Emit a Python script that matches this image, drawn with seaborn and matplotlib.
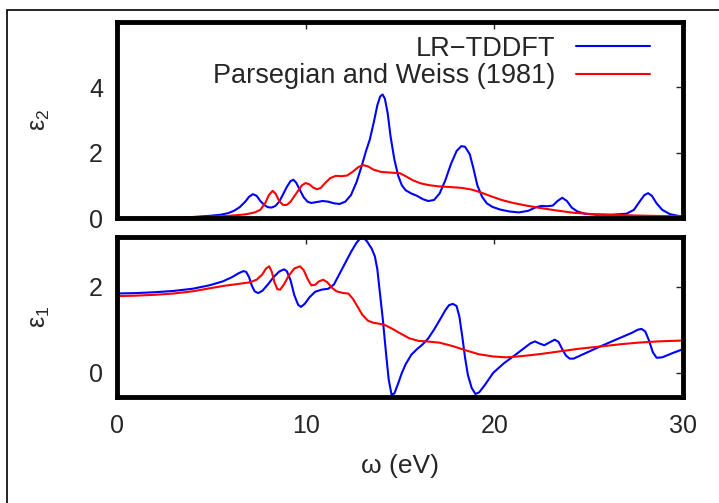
import numpy as np
import pandas as pd
import matplotlib
matplotlib.use("Agg")
import matplotlib.pyplot as plt
import seaborn as sns
from matplotlib.patches import Rectangle

# valores: omega (eV) y epsilon
w_eps2_tddft = [0, 2, 3, 4, 4.5, 5, 5.5, 5.9, 6.2, 6.5, 6.8, 7.0, 7.2, 7.4, 7.6, 7.8, 8.0, 8.2, 8.4,
                8.6, 8.8, 9.0, 9.2, 9.35, 9.5, 9.7, 9.9, 10.1, 10.3, 10.6, 10.9, 11.2, 11.5, 11.8,
                12.1, 12.4, 12.7, 13.0, 13.2, 13.4, 13.6, 13.8, 13.95, 14.08, 14.2, 14.35, 14.5,
                14.7, 14.9, 15.1, 15.3, 15.6, 15.9, 16.2, 16.5, 16.8, 17.1, 17.4, 17.7, 18.0, 18.25,
                18.45, 18.7, 18.9, 19.1, 19.35, 19.6, 19.9, 20.3, 20.8, 21.3, 21.8, 22.2, 22.5, 22.8,
                23.1, 23.35, 23.6, 23.85, 24.1, 24.4, 24.8, 25.4, 26.2, 27.0, 27.4, 27.7, 27.95,
                28.15, 28.35, 28.6, 28.9, 29.3, 29.7, 30]
eps2_tddft = [0, 0, 0.01, 0.03, 0.05, 0.07, 0.1, 0.15, 0.22, 0.33, 0.5, 0.65, 0.73, 0.68, 0.52, 0.4,
              0.33, 0.32, 0.37, 0.5, 0.72, 0.95, 1.13, 1.17, 1.08, 0.85, 0.63, 0.5, 0.46, 0.49, 0.52,
              0.5, 0.45, 0.43, 0.5, 0.7, 1.1, 1.65, 2.05, 2.4, 2.9, 3.45, 3.72, 3.78, 3.65, 3.2, 2.5,
              1.8, 1.3, 1.0, 0.85, 0.75, 0.68, 0.58, 0.52, 0.55, 0.75, 1.15, 1.65, 2.05, 2.2, 2.18,
              1.95, 1.5, 1.0, 0.65, 0.45, 0.34, 0.26, 0.2, 0.17, 0.22, 0.33, 0.37, 0.36, 0.38, 0.52,
              0.62, 0.52, 0.32, 0.2, 0.13, 0.1, 0.1, 0.13, 0.25, 0.5, 0.7, 0.76, 0.68, 0.45, 0.25,
              0.12, 0.07, 0.05]

w_eps2_pw = [0, 3, 4, 5, 6, 6.8, 7.3, 7.6, 7.85, 8.05, 8.25, 8.4, 8.6, 8.8, 9.0, 9.2, 9.5, 9.8, 10.0,
             10.2, 10.4, 10.6, 10.8, 11.0, 11.3, 11.6, 11.9, 12.2, 12.5, 12.8, 13.05, 13.3, 13.6,
             14.0, 14.5, 15.0, 15.3, 15.7, 16.1, 16.5, 17.0, 17.6, 18.3, 18.8, 19.2, 19.8, 20.4,
             21.0, 21.7, 22.4, 23.3, 24.2, 25.2, 26.5, 28, 30]
eps2_pw = [0, 0.01, 0.02, 0.04, 0.07, 0.11, 0.17, 0.25, 0.45, 0.7, 0.83, 0.75, 0.52, 0.4, 0.4, 0.5,
           0.75, 1.0, 1.07, 1.03, 0.93, 0.88, 0.92, 1.05, 1.22, 1.29, 1.28, 1.3, 1.42, 1.56, 1.62,
           1.58, 1.48, 1.41, 1.39, 1.37, 1.28, 1.15, 1.06, 1.01, 0.97, 0.95, 0.92, 0.87, 0.8, 0.67,
           0.55, 0.46, 0.38, 0.31, 0.23, 0.16, 0.12, 0.09, 0.07, 0.05]

w_eps1_tddft = [0, 1, 2, 3, 4, 4.9, 5.6, 6.1, 6.45, 6.7, 6.85, 7.0, 7.15, 7.3, 7.48, 7.7, 8.0, 8.3,
                8.6, 8.85, 9.0, 9.2, 9.4, 9.6, 9.75, 9.95, 10.2, 10.5, 10.85, 11.2, 11.5, 11.8, 12.1,
                12.4, 12.7, 12.9, 13.05, 13.25, 13.5, 13.67, 13.8, 13.95, 14.1, 14.25, 14.4, 14.55,
                14.7, 14.9, 15.1, 15.3, 15.6, 15.9, 16.2, 16.5, 16.8, 17.1, 17.4, 17.6, 17.8, 18.0,
                18.15, 18.3, 18.45, 18.6, 18.8, 19.0, 19.2, 19.5, 19.94, 20.5, 21.0, 21.6, 21.9,
                22.15, 22.4, 22.65, 22.9, 23.2, 23.4, 23.6, 23.8, 24.0, 24.2, 24.8, 25.6, 26.5, 27.3,
                27.6, 27.8, 28.0, 28.2, 28.4, 28.6, 28.9, 29.4, 30]
eps1_tddft = [1.84, 1.85, 1.87, 1.9, 1.95, 2.03, 2.12, 2.22, 2.31, 2.36, 2.34, 2.22, 2.02, 1.89, 1.85,
              1.9, 2.05, 2.22, 2.35, 2.4, 2.36, 2.15, 1.8, 1.58, 1.53, 1.6, 1.75, 1.88, 1.93, 1.95,
              2.05, 2.3, 2.55, 2.8, 3.02, 3.12, 3.14, 3.05, 2.88, 2.7, 2.4, 1.8, 1.2, 0.5, -0.15,
              -0.5, -0.48, -0.25, 0.0, 0.2, 0.42, 0.55, 0.66, 0.8, 1.0, 1.22, 1.45, 1.57, 1.6, 1.55,
              1.3, 0.85, 0.35, -0.05, -0.35, -0.49, -0.45, -0.28, 0.0, 0.22, 0.38, 0.58, 0.68, 0.73,
              0.68, 0.64, 0.7, 0.77, 0.72, 0.55, 0.4, 0.33, 0.33, 0.45, 0.61, 0.78, 0.93, 1.0, 1.02,
              0.96, 0.75, 0.48, 0.35, 0.36, 0.45, 0.55]

w_eps1_pw = [0, 1, 2, 3, 4, 4.9, 5.7, 6.4, 7.05, 7.4, 7.7, 7.9, 8.07, 8.2, 8.35, 8.5, 8.65, 8.85, 9.1,
             9.4, 9.7, 9.9, 10.1, 10.3, 10.5, 10.7, 10.93, 11.15, 11.4, 11.64, 12.0, 12.26, 12.5,
             12.8, 13.0, 13.3, 13.6, 13.9, 14.2, 14.6, 15.0, 15.5, 16.0, 16.4, 17.1, 17.8, 18.5,
             19.2, 19.94, 20.65, 21.5, 22.5, 23.5, 24.5, 25.6, 26.6, 27.6, 28.7, 30]
eps1_pw = [1.78, 1.79, 1.81, 1.84, 1.89, 1.96, 2.02, 2.06, 2.1, 2.16, 2.28, 2.42, 2.47, 2.35, 2.1,
           1.94, 1.93, 2.05, 2.25, 2.42, 2.47, 2.38, 2.18, 2.03, 2.04, 2.12, 2.16, 2.1, 1.97, 1.89,
           1.85, 1.84, 1.72, 1.5, 1.35, 1.21, 1.16, 1.14, 1.11, 1.02, 0.92, 0.8, 0.74, 0.73, 0.7,
           0.62, 0.52, 0.43, 0.38, 0.36, 0.39, 0.44, 0.5, 0.56, 0.61, 0.66, 0.7, 0.73, 0.75]

lab_tddft = "LR\u2212TDDFT"
lab_pw = "Parsegian and Weiss (1981)"

# tablas largas para seaborn
df2 = pd.concat([
    pd.DataFrame({"w": w_eps2_tddft, "eps": eps2_tddft, "serie": lab_tddft}),
    pd.DataFrame({"w": w_eps2_pw, "eps": eps2_pw, "serie": lab_pw}),
])
df1 = pd.concat([
    pd.DataFrame({"w": w_eps1_tddft, "eps": eps1_tddft, "serie": lab_tddft}),
    pd.DataFrame({"w": w_eps1_pw, "eps": eps1_pw, "serie": lab_pw}),
])

sns.set_style("white")
plt.rcParams["font.family"] = ["Liberation Sans", "DejaVu Sans"]
plt.rcParams["mathtext.fontset"] = "custom"
plt.rcParams["mathtext.rm"] = "Liberation Sans"
plt.rcParams["mathtext.it"] = "Liberation Sans"

paleta = {lab_tddft: "#0000ff", lab_pw: "#ff0000"}
fs_tick = 18
fs_leg = 19.5

fig = plt.figure(figsize=(7.19, 5.03), dpi=100)
ax_top = fig.add_axes([0.1627, 0.5666, 0.7872, 0.3897])
ax_bot = fig.add_axes([0.1627, 0.2107, 0.7872, 0.3181])

sns.lineplot(data=df2, x="w", y="eps", hue="serie", palette=paleta, sort=False,
             estimator=None, linewidth=1.5, ax=ax_top)
sns.lineplot(data=df1, x="w", y="eps", hue="serie", palette=paleta, sort=False,
             estimator=None, linewidth=1.5, ax=ax_bot, legend=False)

for ax in (ax_top, ax_bot):
    ax.set_xlim(0, 30)
    ax.set_xticks([0, 10, 20, 30])
    for s in ax.spines.values():
        s.set_linewidth(3.5)
        s.set_color("black")
    ax.tick_params(direction="in", length=5, width=1, top=True, right=True,
                   labelsize=fs_tick, pad=10)

ax_top.set_ylim(0, 6)
ax_top.set_yticks([0, 2, 4])
ax_top.tick_params(labelbottom=False)
ax_top.set_xlabel("")
ax_top.set_ylabel("$\\mathregular{\u03b5_2}$", fontsize=fs_tick)
ax_top.yaxis.set_label_coords(-0.115, 0.5)

ax_bot.set_ylim(-0.56, 3.15)
ax_bot.set_yticks([0, 2])
ax_bot.set_ylabel("$\\mathregular{\u03b5_1}$", fontsize=fs_tick)
ax_bot.yaxis.set_label_coords(-0.115, 0.5)
ax_bot.tick_params(axis="x", pad=12)
ax_bot.set_xlabel("\u03c9 (eV)", fontsize=19, labelpad=12)

leg = ax_top.legend(loc="upper right", bbox_to_anchor=(0.96, 0.985), frameon=False,
                    markerfirst=False, fontsize=fs_leg, handlelength=2.7, handletextpad=0.78,
                    labelspacing=0.05, borderaxespad=0)
for h in leg.get_lines():
    h.set_linewidth(1.5)

# marco exterior de la figura
fig.patches.append(Rectangle((7 / 719, -0.1), 1.2, 1 - 10 / 503 + 0.1, transform=fig.transFigure,
                             fill=False, edgecolor="black", linewidth=1.2))

fig.savefig("out.png", dpi=100)
